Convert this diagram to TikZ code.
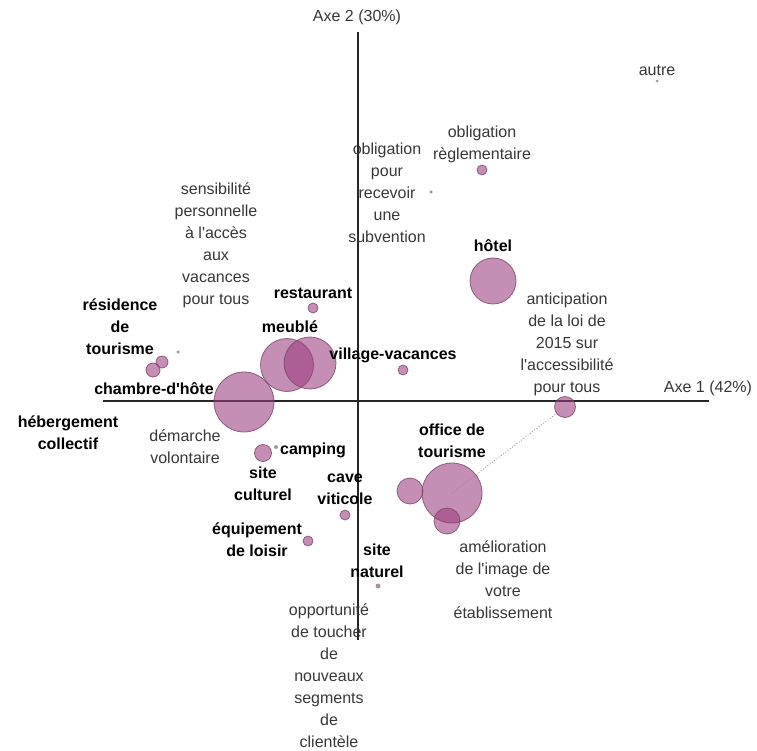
\documentclass[tikz,border=0pt]{standalone}
\usepackage{fontspec}
\setmainfont{Liberation Sans}
\definecolor{bubfill}{RGB}{155,60,125}
\definecolor{bubline}{RGB}{120,70,105}
\definecolor{txtgray}{RGB}{55,55,55}
\newcommand{\apo}{\textquotesingle}
\tikzset{
  bub/.style={circle, inner sep=0pt, fill=bubfill, fill opacity=0.58, draw=bubline, draw opacity=0.8, line width=0.8pt},
  tinydot/.style={circle, inner sep=0pt, minimum size=3.5pt, fill=bubline, fill opacity=0.6},
  lab/.style={align=center, inner sep=0pt, text=txtgray, font=\fontsize{16}{22}\selectfont},
  cat/.style={align=center, inner sep=0pt, text=black, font=\fontsize{16}{22}\selectfont\bfseries},
  axis/.style={line width=1.4pt, draw=black!85}
}
\begin{document}
\begin{tikzpicture}[x=1pt,y=-1pt]
\useasboundingbox (0,0) rectangle (757,751);
% axes
\coordinate (ytop) at (358,32);
\coordinate (ybot) at (358,640);
\coordinate (xleft) at (103,401);
\coordinate (xright) at (709,401);
\draw[axis] (ybot) -- (ytop);
\draw[axis] (xleft) -- (xright);
\node[lab] (axe2) at (357,17) {Axe 2 (30\%)};
\node[lab] (axe1) at (708,388) {Axe 1 (42\%)};

% bubbles
\node[bub, minimum size=46pt] (hotel) at (493,281) {};
\node[bub, minimum size=21pt] (antic) at (565,407) {};
\node[bub, minimum size=10pt] (oblreg) at (482,170) {};
\node[tinydot] (oblsub) at (431,192) {};
\node[tinydot, minimum size=3pt] (autredot) at (657,81) {};
\node[bub, minimum size=10pt] (resto) at (313,308) {};
\node[bub, minimum size=53pt] (meuble) at (287,365) {};
\node[bub, minimum size=52pt] (vvbig) at (310,363) {};
\node[bub, minimum size=10pt] (vv) at (403,370) {};
\node[tinydot] (sensdot) at (178,352) {};
\node[bub, minimum size=12pt] (res1) at (162,362) {};
\node[bub, minimum size=14pt] (res2) at (153,370) {};
\node[bub, minimum size=60pt] (heberg) at (244,402) {};
\node[bub, minimum size=17pt] (sitecult) at (263,453) {};
\node[tinydot, minimum size=4pt] (campdot) at (276,447) {};
\node[bub, minimum size=10pt] (cave) at (345,515) {};
\node[bub, minimum size=10pt] (equip) at (308,541) {};
\node[tinydot, minimum size=5pt] (sitenat) at (378,586) {};
\node[bub, minimum size=60pt] (office) at (452,493) {};
\node[bub, minimum size=26pt] (offl) at (410,491) {};
\node[bub, minimum size=26pt] (offb) at (447,521) {};

% dotted connector
\draw[dotted, line width=0.8pt, draw=black!45] (office.center) -- (antic);

% labels
\node[lab] (autre) at (657,70) {autre};
\node[lab] (oblregt) at (482,144) {obligation\\règlementaire};
\node[lab] (oblsubt) at (387,193) {obligation\\pour\\recevoir\\une\\subvention};
\node[cat] (hotelt) at (493,246) {hôtel};
\node[lab] (antict) at (567,344) {anticipation\\de la loi de\\2015 sur\\l\apo accessibilité\\pour tous};
\node[lab] (senst) at (216,245) {sensibilité\\personnelle\\à l\apo accès\\aux\\vacances\\pour tous};
\node[cat] (restot) at (313,293) {restaurant};
\node[cat] (rest) at (120,327) {résidence\\de\\tourisme};
\node[cat] (meublet) at (290,327) {meublé};
\node[cat] (vvt) at (393,355) {village-vacances};
\node[cat] (chambret) at (154,389) {chambre-d\apo hôte};
\node[cat] (hebergt) at (68,433) {hébergement\\collectif};
\node[lab] (demt) at (185,447) {démarche\\volontaire};
\node[cat] (campt) at (313,450) {camping};
\node[cat] (sitecultt) at (263,484) {site\\culturel};
\node[cat] (cavet) at (345,489) {cave\\viticole};
\node[cat] (equipt) at (257,540) {équipement\\de loisir};
\node[cat] (sitenatt) at (377,561) {site\\naturel};
\node[lab] (opport) at (329,676) {opportunité\\de toucher\\de\\nouveaux\\segments\\de\\clientèle};
\node[cat] (officet) at (452,441) {office de\\tourisme};
\node[lab] (amelt) at (503,580) {amélioration\\de l\apo image de\\votre\\établissement};
\end{tikzpicture}
\end{document}
